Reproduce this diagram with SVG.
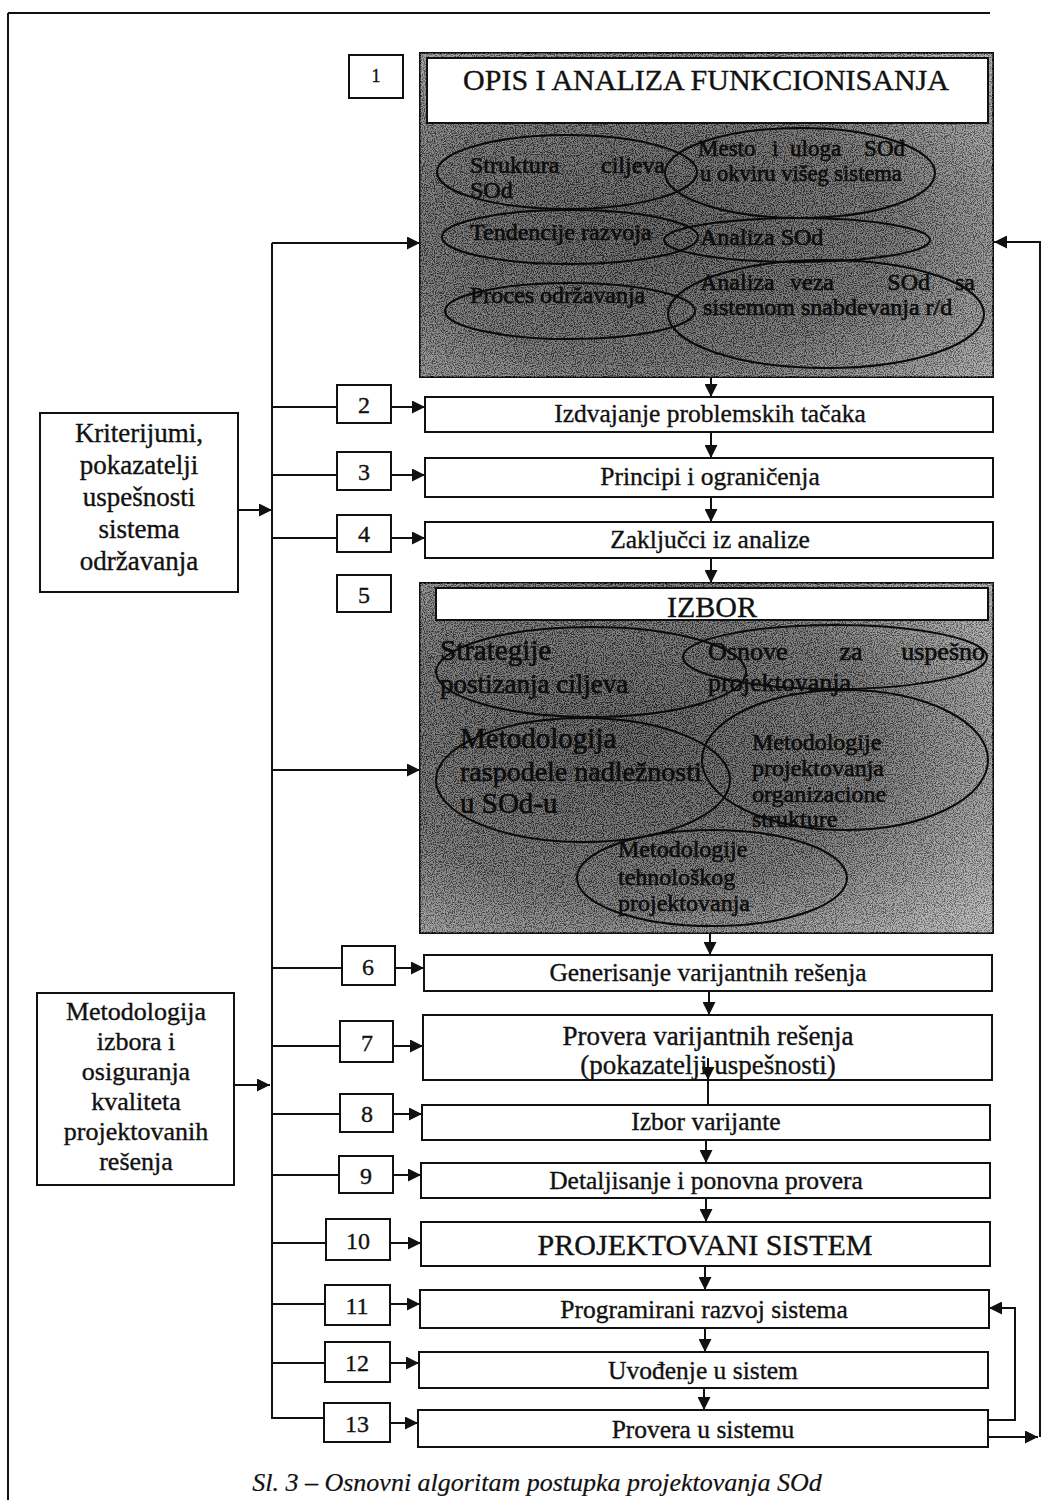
<svg xmlns="http://www.w3.org/2000/svg" width="1061" height="1508" viewBox="0 0 1061 1508">
<style>
text{font-family:"Liberation Serif","Times New Roman",serif;fill:#111;stroke:#111;stroke-width:0.35}
.box{fill:#fff;stroke:#111;stroke-width:2}
.num{font-size:24px;text-anchor:middle}
.lbl{font-size:25.5px;text-anchor:middle}
.big{font-size:30px;text-anchor:middle}
.side{font-size:27px;text-anchor:middle}
.ell{fill:none;stroke:#0a0a0a;stroke-width:2}
.et{font-size:24px;fill:#0c0c0c;stroke:#0c0c0c;stroke-width:0.6}
.ln{fill:none;stroke:#111;stroke-width:2}
.cap{font-size:26px;font-style:italic;text-anchor:middle;stroke-width:0.2}
</style>
<defs>
<marker id="ah" viewBox="0 0 12 12" refX="12" refY="6" markerWidth="13" markerHeight="13" markerUnits="userSpaceOnUse" orient="auto">
<path d="M0,0 L12,6 L0,12 z" fill="#111"/>
</marker>
<filter id="grain" x="0" y="0" width="100%" height="100%">
<feTurbulence type="fractalNoise" baseFrequency="0.9" numOctaves="2" seed="5" result="n"/>
<feColorMatrix in="n" type="matrix" values="4 0 0 0 -1.6  4 0 0 0 -1.6  4 0 0 0 -1.6  0 0 0 0 0.32" result="a"/>
<feComposite in="a" in2="SourceGraphic" operator="in"/>
</filter>
<radialGradient id="g1" cx="0.4" cy="0.55" r="0.75">
<stop offset="0" stop-color="#333"/>
<stop offset="0.55" stop-color="#4e4e4e"/>
<stop offset="1" stop-color="#9a9a9a"/>
</radialGradient>
<radialGradient id="g2" cx="0.35" cy="0.45" r="0.8">
<stop offset="0" stop-color="#333"/>
<stop offset="0.55" stop-color="#525252"/>
<stop offset="1" stop-color="#aaa"/>
</radialGradient>
</defs>

<!-- frame -->
<path class="ln" d="M8,13 H990 M8,13 V1500" stroke-width="1.5"/>

<g id="n1">
<rect x="349" y="55" width="54" height="43" class="box"/>
<text x="376" y="82" class="num" style="font-size:18px">1</text>
<rect x="420" y="53" width="573" height="324" fill="url(#g1)" stroke="#111" stroke-width="2"/>
<rect x="420" y="53" width="573" height="324" fill="#000" filter="url(#grain)"/>
<rect x="427" y="58" width="561" height="65" fill="#fff" stroke="#111" stroke-width="2"/>
<text x="706" y="90" class="big">OPIS I ANALIZA FUNKCIONISANJA</text>
<ellipse cx="567" cy="172" rx="130" ry="37" class="ell"/>
<ellipse cx="800" cy="173" rx="135" ry="45" class="ell"/>
<ellipse cx="570" cy="237" rx="128" ry="27" class="ell"/>
<ellipse cx="797" cy="240" rx="133" ry="22" class="ell"/>
<ellipse cx="570" cy="311" rx="125" ry="28" class="ell"/>
<ellipse cx="826" cy="314" rx="158" ry="54" class="ell"/>
<text x="470" y="173" class="et">Struktura</text>
<text x="665" y="173" class="et" text-anchor="end">ciljeva</text>
<text x="470" y="198" class="et">SOd</text>
<text x="698" y="156" class="et" style="font-size:23px">Mesto</text>
<text x="772" y="156" class="et" style="font-size:23px">i</text>
<text x="790" y="156" class="et" style="font-size:23px">uloga</text>
<text x="905" y="156" class="et" style="font-size:23px" text-anchor="end">SOd</text>
<text x="700" y="181" class="et" style="font-size:22.5px">u okviru višeg sistema</text>
<text x="470" y="240" class="et">Tendencije razvoja</text>
<text x="700" y="245" class="et">Analiza SOd</text>
<text x="470" y="303" class="et">Proces održavanja</text>
<text x="700" y="290" class="et">Analiza</text>
<text x="790" y="290" class="et">veza</text>
<text x="930" y="290" class="et" text-anchor="end">SOd</text>
<text x="975" y="290" class="et" text-anchor="end">sa</text>
<text x="703" y="315" class="et">sistemom snabdevanja r/d</text>
</g>

<g id="n2">
<rect x="337" y="385" width="54" height="38" class="box"/>
<text x="364" y="413" class="num">2</text>
<rect x="425" y="397" width="568" height="35" class="box"/>
<text x="710" y="422" class="lbl">Izdvajanje problemskih tačaka</text>
</g>
<g id="n3">
<rect x="337" y="452" width="54" height="38" class="box"/>
<text x="364" y="480" class="num">3</text>
<rect x="425" y="458" width="568" height="39" class="box"/>
<text x="710" y="485" class="lbl">Principi i ograničenja</text>
</g>
<g id="n4">
<rect x="337" y="515" width="54" height="37" class="box"/>
<text x="364" y="542" class="num">4</text>
<rect x="425" y="522" width="568" height="36" class="box"/>
<text x="710" y="548" class="lbl">Zaključci iz analize</text>
</g>

<g id="n5">
<rect x="337" y="575" width="54" height="37" class="box"/>
<text x="364" y="603" class="num">5</text>
<rect x="420" y="583" width="573" height="350" fill="url(#g2)" stroke="#111" stroke-width="2"/>
<rect x="420" y="583" width="573" height="350" fill="#000" filter="url(#grain)"/>
<rect x="436" y="588" width="552" height="32" fill="#fff" stroke="#111" stroke-width="2"/>
<text x="712" y="617" class="big">IZBOR</text>
<ellipse cx="591" cy="672" rx="155" ry="45" class="ell"/>
<ellipse cx="835" cy="657" rx="152" ry="32" class="ell"/>
<ellipse cx="583" cy="780" rx="147" ry="62" class="ell"/>
<ellipse cx="845" cy="760" rx="143" ry="70" class="ell"/>
<ellipse cx="712" cy="878" rx="135" ry="48" class="ell"/>
<text x="440" y="660" class="et" style="font-size:29px">Strategije</text>
<text x="440" y="693" class="et" style="font-size:27px">postizanja ciljeva</text>
<text x="708" y="660" class="et" style="font-size:26px">Osnove</text>
<text x="851" y="660" class="et" style="font-size:26px" text-anchor="middle">za</text>
<text x="985" y="660" class="et" style="font-size:26px" text-anchor="end">uspešno</text>
<text x="708" y="691" class="et" style="font-size:26px">projektovanja</text>
<text x="460" y="748" class="et" style="font-size:29px">Metodologija</text>
<text x="460" y="781" class="et" style="font-size:28px">raspodele nadležnosti</text>
<text x="460" y="813" class="et" style="font-size:29px">u SOd-u</text>
<text x="752" y="750" class="et" style="font-size:24px">Metodologije</text>
<text x="752" y="776" class="et" style="font-size:24px">projektovanja</text>
<text x="752" y="802" class="et" style="font-size:24px">organizacione</text>
<text x="752" y="827" class="et" style="font-size:24px">strukture</text>
<text x="618" y="857" class="et" style="font-size:24px">Metodologije</text>
<text x="618" y="885" class="et" style="font-size:24px">tehnološkog</text>
<text x="618" y="911" class="et" style="font-size:24px">projektovanja</text>
</g>

<g id="n6">
<rect x="342" y="946" width="53" height="39" class="box"/>
<text x="368" y="975" class="num">6</text>
<rect x="424" y="955" width="568" height="36" class="box"/>
<text x="708" y="981" class="lbl">Generisanje varijantnih rešenja</text>
</g>
<g id="n7">
<rect x="340" y="1021" width="53" height="41" class="box"/>
<text x="367" y="1051" class="num">7</text>
<rect x="423" y="1015" width="569" height="65" class="box"/>
<text x="708" y="1045" class="lbl" style="font-size:27px">Provera varijantnih rešenja</text>
<text x="708" y="1074" class="lbl" style="font-size:27px">(pokazatelji uspešnosti)</text>
</g>
<g id="n8">
<rect x="340" y="1094" width="53" height="38" class="box"/>
<text x="367" y="1122" class="num">8</text>
<rect x="422" y="1105" width="568" height="35" class="box"/>
<text x="706" y="1130" class="lbl">Izbor varijante</text>
</g>
<g id="n9">
<rect x="339" y="1156" width="54" height="37" class="box"/>
<text x="366" y="1184" class="num">9</text>
<rect x="421" y="1163" width="569" height="35" class="box"/>
<text x="706" y="1189" class="lbl">Detaljisanje i ponovna provera</text>
</g>
<g id="n10">
<rect x="326" y="1219" width="64" height="41" class="box"/>
<text x="358" y="1249" class="num">10</text>
<rect x="421" y="1222" width="569" height="44" class="box"/>
<text x="705" y="1255" class="big">PROJEKTOVANI SISTEM</text>
</g>
<g id="n11">
<rect x="325" y="1285" width="65" height="40" class="box"/>
<text x="357" y="1314" class="num">11</text>
<rect x="420" y="1290" width="569" height="38" class="box"/>
<text x="704" y="1318" class="lbl">Programirani razvoj sistema</text>
</g>
<g id="n12">
<rect x="325" y="1342" width="65" height="40" class="box"/>
<text x="357" y="1371" class="num">12</text>
<rect x="419" y="1352" width="569" height="36" class="box"/>
<text x="703" y="1379" class="lbl">Uvođenje u sistem</text>
</g>
<g id="n13">
<rect x="324" y="1403" width="66" height="39" class="box"/>
<text x="357" y="1432" class="num">13</text>
<rect x="418" y="1410" width="570" height="37" class="box"/>
<text x="703" y="1438" class="lbl">Provera u sistemu</text>
</g>

<g id="left1">
<rect x="40" y="413" width="198" height="179" class="box"/>
<text x="139" y="442" class="side">Kriterijumi,</text>
<text x="139" y="474" class="side">pokazatelji</text>
<text x="139" y="506" class="side">uspešnosti</text>
<text x="139" y="538" class="side">sistema</text>
<text x="139" y="570" class="side">održavanja</text>
</g>
<g id="left2">
<rect x="37" y="993" width="197" height="192" class="box"/>
<text x="136" y="1020" class="side" style="font-size:26px">Metodologija</text>
<text x="136" y="1050" class="side" style="font-size:26px">izbora i</text>
<text x="136" y="1080" class="side" style="font-size:26px">osiguranja</text>
<text x="136" y="1110" class="side" style="font-size:26px">kvaliteta</text>
<text x="136" y="1140" class="side" style="font-size:26px">projektovanih</text>
<text x="136" y="1170" class="side" style="font-size:26px">rešenja</text>
</g>

<g id="connectors">
<path class="ln" d="M272,243 V1418 H324"/>
<path class="ln" d="M272,243 H420" marker-end="url(#ah)"/>
<path class="ln" d="M238,510 H272" marker-end="url(#ah)"/>
<path class="ln" d="M234,1085 H270" marker-end="url(#ah)"/>
<path class="ln" d="M272,407 H337 M272,475 H337 M272,538 H337 M272,968 H342 M272,1046 H340 M272,1114 H340 M272,1175 H339 M272,1243 H326 M272,1304 H325 M272,1363 H325"/>
<path class="ln" d="M272,770 H420" marker-end="url(#ah)"/>
<path class="ln" d="M391,407 H425" marker-end="url(#ah)"/>
<path class="ln" d="M391,475 H425" marker-end="url(#ah)"/>
<path class="ln" d="M391,538 H425" marker-end="url(#ah)"/>
<path class="ln" d="M395,968 H424" marker-end="url(#ah)"/>
<path class="ln" d="M393,1046 H423" marker-end="url(#ah)"/>
<path class="ln" d="M393,1114 H422" marker-end="url(#ah)"/>
<path class="ln" d="M393,1175 H421" marker-end="url(#ah)"/>
<path class="ln" d="M390,1243 H421" marker-end="url(#ah)"/>
<path class="ln" d="M390,1304 H420" marker-end="url(#ah)"/>
<path class="ln" d="M390,1363 H419" marker-end="url(#ah)"/>
<path class="ln" d="M390,1423 H418" marker-end="url(#ah)"/>
<path class="ln" d="M711,377 V397" marker-end="url(#ah)"/>
<path class="ln" d="M711,432 V458" marker-end="url(#ah)"/>
<path class="ln" d="M711,497 V522" marker-end="url(#ah)"/>
<path class="ln" d="M711,558 V583" marker-end="url(#ah)"/>
<path class="ln" d="M710,933 V955" marker-end="url(#ah)"/>
<path class="ln" d="M709,991 V1015" marker-end="url(#ah)"/>
<path class="ln" d="M708,1058 V1080" marker-end="url(#ah)"/>
<path class="ln" d="M708,1080 V1105"/>
<path class="ln" d="M706,1140 V1163" marker-end="url(#ah)"/>
<path class="ln" d="M706,1198 V1222" marker-end="url(#ah)"/>
<path class="ln" d="M705,1266 V1290" marker-end="url(#ah)"/>
<path class="ln" d="M705,1328 V1352" marker-end="url(#ah)"/>
<path class="ln" d="M704,1388 V1410" marker-end="url(#ah)"/>
<path class="ln" d="M988,1420 H1015 V1308 H989" marker-end="url(#ah)"/>
<path class="ln" d="M988,1437 H1038" marker-end="url(#ah)"/>
<path class="ln" d="M1040,1437 V242 H994" marker-end="url(#ah)"/>
</g>

<text x="537" y="1491" class="cap">Sl. 3 – Osnovni algoritam postupka projektovanja SOd</text>
</svg>
